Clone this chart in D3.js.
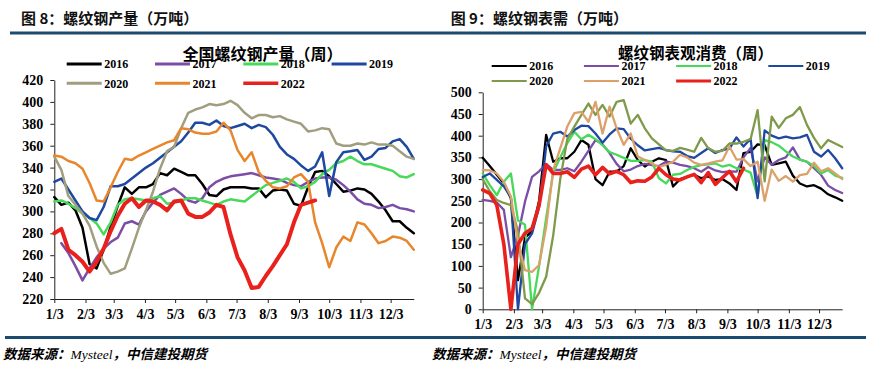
<!DOCTYPE html>
<html><head><meta charset="utf-8">
<script src="https://cdn.jsdelivr.net/npm/d3@7"></script>
<style>body{margin:0;background:#fff} svg{display:block}</style>
</head><body><svg id="c" width="873" height="369"></svg>
<script>
// ---------- DATA ----------
const years = ["2016","2017","2018","2019","2020","2021","2022"];
const monthTickLabels = ["1/3","2/3","3/3","4/3","5/3","6/3","7/3","8/3","9/3","10/3","11/3","12/3"];
const prodYTicks = [220,240,260,280,300,320,340,360,380,400,420];
const demandYTicks = [0,50,100,150,200,250,300,350,400,450,500];

// weekly rebar production (10k t), week 0 = Jan 3
const prod2016 = [313,306,308,301,285,252,248,265,286,305,322,316,322,322,325,335,333,339,336,333,333,325,315,314,320,322,322,322,321,321,313,319,320,319,307,305,322,336,337,332,325,318,319,321,320,316,309,301,291,291,285,280];
const prod2017 = [null,271,262,250,237,248,258,266,272,276,289,291,288,300,308,315,318,321,316,310,308,312,322,327,330,332,333,334,335,333,331,330,329,326,324,323,327,330,331,331,329,324,318,311,307,306,303,304,306,303,302,300];
const prod2018 = [309,310,307,303,298,294,289,279,290,306,311,312,311,310,312,314,307,308,310,312,312,310,308,306,309,311,310,309,314,319,324,326,328,330,327,321,323,327,334,338,344,346,350,346,343,343,341,339,337,332,331,334];
const prod2019 = [327,330,320,310,300,294,292,304,323,323,325,330,335,340,344,349,354,359,364,372,381,381,379,383,378,376,378,380,376,379,377,370,359,352,348,342,337,341,354,314,345,354,355,356,347,350,357,358,364,366,359,348];
const prod2020 = [350,338,314,306,298,287,268,253,243,245,248,266,285,301,318,339,355,359,376,390,393,395,398,397,398,401,397,390,385,388,388,386,387,384,382,380,373,374,376,375,362,360,360,362,361,363,361,361,360,355,350,348];
const prod2021 = [351,350,346,344,339,326,310,309,322,336,348,347,351,354,357,360,363,365,376,375,372,371,371,373,381,374,356,346,354,336,328,322,321,323,331,334,327,290,271,249,267,277,273,290,288,280,271,273,277,276,273,265];
const prod2022 = [280,284,265,260,254,245,254,266,282,296,307,312,304,310,309,306,301,309,310,298,295,295,299,306,304,279,258,246,230,231,241,250,260,270,290,306,308,310];

// weekly apparent rebar consumption (10k t)
const demand2016 = [349,330,310,290,256,67,165,180,250,402,340,348,348,363,390,379,300,286,317,317,330,371,344,329,340,348,344,283,300,305,310,302,306,298,300,290,275,360,363,380,378,333,336,340,308,290,283,286,278,265,258,250];
const demand2017 = [252,250,246,229,120,170,248,305,318,335,321,321,325,318,340,365,390,380,360,335,318,322,330,335,332,330,340,338,333,330,325,317,328,320,316,318,317,350,372,295,350,333,344,350,373,345,340,325,310,285,275,268];
const demand2018 = [313,286,263,294,313,205,195,0,100,210,315,350,383,409,392,402,392,378,362,356,349,342,342,344,340,302,290,310,312,321,328,332,334,336,329,333,325,322,315,260,390,385,377,364,352,345,340,330,313,321,308,303];
const demand2019 = [305,313,298,283,258,0,150,175,235,375,405,409,398,413,423,422,405,384,403,417,415,393,378,366,369,372,367,364,363,353,349,360,371,360,367,370,396,375,393,256,412,400,394,398,394,396,402,363,352,367,348,325];
const demand2020 = [300,272,252,245,240,180,25,12,38,75,170,300,392,421,448,474,448,471,444,478,482,428,448,417,394,380,366,365,372,368,363,395,371,363,365,382,382,386,392,459,295,444,418,440,448,466,425,395,371,390,382,374];
const demand2021 = [321,320,313,294,260,155,90,86,102,190,321,371,421,452,455,432,478,405,467,417,379,405,352,344,336,328,333,340,356,350,338,333,336,340,343,375,345,346,330,340,250,322,296,307,294,309,312,338,318,325,313,300];
const demand2022 = [275,267,240,150,0,150,175,186,240,333,313,313,317,304,323,330,310,327,312,318,310,292,296,295,305,325,310,300,298,305,311,292,315,288,303,318,294,325];

const prodSeries = [prod2016,prod2017,prod2018,prod2019,prod2020,prod2021,prod2022];
const demandSeries = [demand2016,demand2017,demand2018,demand2019,demand2020,demand2021,demand2022];

// ---------- DRAW ----------
const LABEL_FONT = "'Liberation Serif','Times New Roman',serif";
const CJK_FONT = "'Noto Sans CJK SC','Noto Sans',sans-serif";
const RULE = "#1d4b70";

const svg = d3.select("#c");
svg.append("rect").attr("width",873).attr("height",369).attr("fill","#fff");

const parse = d3.timeParse("%Y/%m/%d");
const tickDates = monthTickLabels.map(l => parse("2022/" + l));
const start = tickDates[0];
const endDate = d3.timeDay.offset(start, 357);
const weekDate = i => d3.timeDay.offset(start, 7 * i);

function chart(o) {
  const x = d3.scaleTime().domain([start, endDate]).range(o.xr);
  const y = d3.scaleLinear().domain(o.yd).range(o.yr);
  const g = svg.append("g");

  const ya = g.append("g").attr("transform", `translate(${o.xr[0]},0)`)
    .call(d3.axisLeft(y).tickValues(o.yTicks).tickSize(4).tickSizeOuter(0).tickPadding(7));
  const xa = g.append("g").attr("transform", `translate(0,${o.yr[0]})`)
    .call(d3.axisBottom(x).tickValues(tickDates).tickFormat((d, i) => monthTickLabels[i])
      .tickSize(4).tickSizeOuter(0).tickPadding(6));
  [ya, xa].forEach(a => {
    a.selectAll("text").attr("font-family", LABEL_FONT).attr("font-weight", "bold")
      .attr("font-size", 14).attr("fill", "#000");
    a.selectAll("line,path").attr("stroke", "#222").attr("stroke-width", 1);
  });

  const line = d3.line().defined(d => d != null).x((d, i) => x(weekDate(i))).y(d => y(d));
  o.series.forEach((s, k) => {
    g.append("path").attr("d", line(s)).attr("fill", "none")
      .attr("stroke", o.colors[k]).attr("stroke-width", k === 6 ? o.lw2 : o.lw)
      .attr("stroke-linejoin", "round").attr("stroke-linecap", "round");
  });

  // legend
  years.forEach((yr, k) => {
    const lx = o.lgX + (k % 4) * o.lgDX, ly = o.lgY + Math.floor(k / 4) * o.lgDY;
    g.append("line").attr("x1", lx).attr("x2", lx + 35).attr("y1", ly).attr("y2", ly)
      .attr("stroke", o.colors[k]).attr("stroke-width", k === 6 ? o.lgw2 : o.lgw);
    g.append("text").attr("x", lx + 37.5).attr("y", ly + 4.2).text(yr)
      .attr("font-family", LABEL_FONT).attr("font-weight", "bold").attr("font-size", 12).attr("fill", "#000");
  });

  g.append("text").attr("x", o.titleX).attr("y", o.titleY).attr("text-anchor", "middle")
    .attr("font-family", CJK_FONT).attr("font-weight", "bold").attr("font-size", o.titleSize)
    .attr("fill", "#000").text(o.title);
}

chart({
  xr: [54.3, 413.8], yr: [299, 80], yd: [220, 420], yTicks: prodYTicks,
  series: prodSeries,
  colors: ["#000000","#7a4ea6","#47d95a","#1f48a0","#a19e80","#e8862d","#e8211d"],
  lw: 2.5, lw2: 4, lgw: 3, lgw2: 3.5,
  lgX: 66.7, lgDX: 88.3, lgY: 64, lgDY: 19.3,
  title: "全国螺纹钢产量（周）", titleX: 262.5, titleY: 59.5, titleSize: 16
});
chart({
  xr: [482.7, 842.2], yr: [309.3, 92.3], yd: [0, 500], yTicks: demandYTicks,
  series: demandSeries,
  colors: ["#000000","#7a4ea6","#47d95a","#1f48a0","#7f9a4a","#dca06a","#e8211d"],
  lw: 2.3, lw2: 3.6, lgw: 2, lgw2: 3,
  lgX: 491.7, lgDX: 92.2, lgY: 66, lgDY: 15,
  title: "螺纹钢表观消费（周）", titleX: 695.5, titleY: 59, titleSize: 15.5
});

// panel headers and rules
[["图 8：螺纹钢产量（万吨）", 21], ["图 9：螺纹钢表需（万吨）", 450.7]].forEach(([t, x]) => {
  svg.append("text").attr("x", x).attr("y", 24).text(t)
    .attr("font-family", CJK_FONT).attr("font-weight", "bold").attr("font-size", 15).attr("fill", "#111");
});
svg.append("rect").attr("x", 10).attr("y", 31.5).attr("width", 856).attr("height", 3).attr("fill", RULE);
svg.append("rect").attr("x", 5).attr("y", 336).attr("width", 861).attr("height", 3).attr("fill", RULE);

[3, 432].forEach(x => {
  const t = svg.append("text").attr("x", x).attr("y", 359).attr("font-size", 13.5).attr("fill", "#000");
  t.append("tspan").text("数据来源：").attr("font-family", CJK_FONT).attr("font-weight", "bold").attr("font-style", "italic");
  t.append("tspan").text("Mysteel").attr("font-family", LABEL_FONT).attr("font-style", "italic");
  t.append("tspan").text("，中信建投期货").attr("font-family", CJK_FONT).attr("font-weight", "bold").attr("font-style", "italic");
});
</script></body></html>
